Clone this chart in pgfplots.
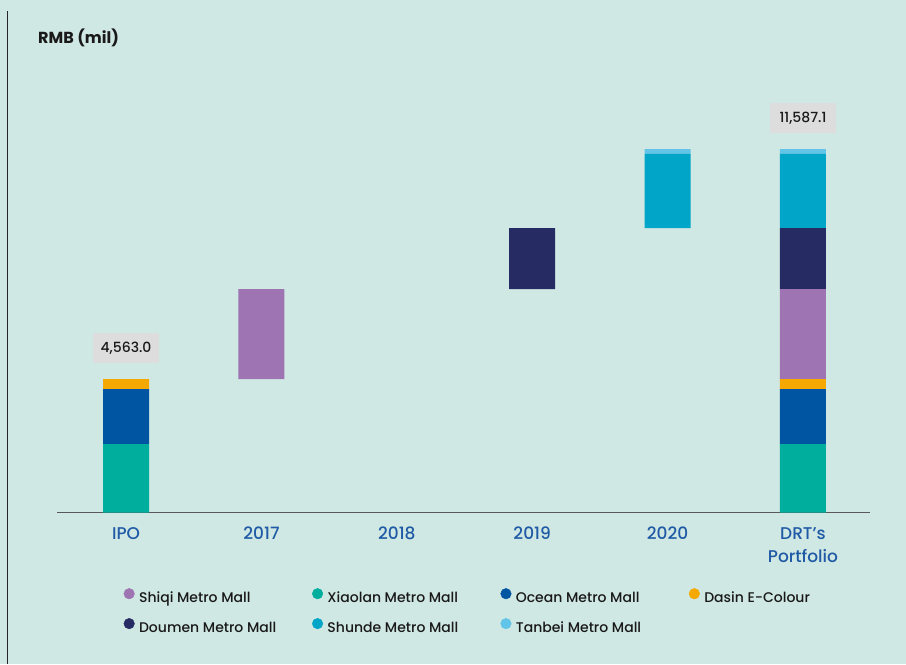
\documentclass[border=0pt]{standalone}
\usepackage{fontspec}
\setmainfont{Poppins}
\newfontfamily\pmed{Poppins Medium}
\usepackage{pgfplots}
\pgfplotsset{compat=1.18}
\definecolor{bg}{RGB}{208,232,227}
\definecolor{cXiao}{RGB}{0,174,158}
\definecolor{cOcean}{RGB}{0,85,162}
\definecolor{cDasin}{RGB}{245,168,0}
\definecolor{cShiqi}{RGB}{158,116,179}
\definecolor{cDoumen}{RGB}{39,43,99}
\definecolor{cShunde}{RGB}{0,165,200}
\definecolor{cTanbei}{RGB}{98,196,232}
\definecolor{tickblue}{RGB}{30,90,165}
\definecolor{boxgray}{RGB}{221,221,221}
\definecolor{txt}{RGB}{25,25,25}
\begin{document}
\begin{tikzpicture}
\fill[bg] (0pt,0pt) rectangle (906pt,664pt);
\draw[line width=1.3pt, black!85] (7.5pt,0pt) -- (7.5pt,653pt);
\node[anchor=base west, font=\fontsize{16}{16}\selectfont\bfseries, text=txt, inner sep=0pt] at (38pt,620.7pt) {RMB (mil)};
\begin{axis}[
  at={(57pt,151.3pt)}, anchor=south west,
  scale only axis, width=813pt, height=439.1pt,
  xmin=-0.51, xmax=5.495, ymin=0, ymax=14000,
  ybar stacked, bar width=46pt,
  hide y axis,
  axis x line*=bottom,
  x axis line style={-, draw=black!65, line width=1.3pt},
  xtick={0,1,2,3,4,5},
  xticklabels={IPO,2017,2018,2019,2020,{\begin{tabular}[t]{@{}c@{}}DRT’s\\Portfolio\end{tabular}}},
  major tick length=0pt,
  xticklabel style={font=\fontsize{17}{23}\selectfont\pmed, text=tickblue, anchor=base, yshift=-26.8pt},
  clip=false,
  legend columns=4,
  legend cell align=left,
  legend style={at={(0.0820,-0.172)}, anchor=north west, draw=none, fill=none,
    inner sep=0pt, outer sep=0pt, row sep=12.4pt,
    font=\fontsize{14}{14}\selectfont\pmed, text=txt,
    nodes={inner sep=0pt, text height=11pt, text depth=3pt}},
]
\addlegendimage{legend image code/.code={\fill[cShiqi] (5.3pt,5pt) circle (5.3pt); \path (0pt,0pt) (15pt,0pt);}}
\addlegendentry{\makebox[173pt][l]{Shiqi Metro Mall}}
\addlegendimage{legend image code/.code={\fill[cXiao] (5.3pt,5pt) circle (5.3pt); \path (0pt,0pt) (15pt,0pt);}}
\addlegendentry{\makebox[173pt][l]{Xiaolan Metro Mall}}
\addlegendimage{legend image code/.code={\fill[cOcean] (5.3pt,5pt) circle (5.3pt); \path (0pt,0pt) (15pt,0pt);}}
\addlegendentry{\makebox[173pt][l]{Ocean Metro Mall}}
\addlegendimage{legend image code/.code={\fill[cDasin] (5.3pt,5pt) circle (5.3pt); \path (0pt,0pt) (15pt,0pt);}}
\addlegendentry{\makebox[173pt][l]{Dasin E-Colour}}
\addlegendimage{legend image code/.code={\fill[cDoumen] (5.3pt,5pt) circle (5.3pt); \path (0pt,0pt) (15pt,0pt);}}
\addlegendentry{\makebox[173pt][l]{Doumen Metro Mall}}
\addlegendimage{legend image code/.code={\fill[cShunde] (5.3pt,5pt) circle (5.3pt); \path (0pt,0pt) (15pt,0pt);}}
\addlegendentry{\makebox[173pt][l]{Shunde Metro Mall}}
\addlegendimage{legend image code/.code={\fill[cTanbei] (5.3pt,5pt) circle (5.3pt); \path (0pt,0pt) (15pt,0pt);}}
\addlegendentry{\makebox[173pt][l]{Tanbei Metro Mall}}
% invisible base
\addplot[draw=none, fill=none] coordinates {(0,0) (1,4256) (2,0) (3,7125) (4,9070) (5,0)};
\addplot[draw=none, fill=cXiao] coordinates {(0,2184) (1,0) (2,0) (3,0) (4,0) (5,2184)};
\addplot[draw=none, fill=cOcean] coordinates {(0,1753) (1,0) (2,0) (3,0) (4,0) (5,1753)};
\addplot[draw=none, fill=cDasin] coordinates {(0,319) (1,0) (2,0) (3,0) (4,0) (5,319)};
\addplot[draw=none, fill=cShiqi] coordinates {(0,0) (1,2869) (2,0) (3,0) (4,0) (5,2869)};
\addplot[draw=none, fill=cDoumen] coordinates {(0,0) (1,0) (2,0) (3,1945) (4,0) (5,1945)};
\addplot[draw=none, fill=cShunde] coordinates {(0,0) (1,0) (2,0) (3,0) (4,2381) (5,2381)};
\addplot[draw=none, fill=cTanbei] coordinates {(0,0) (1,0) (2,0) (3,0) (4,137) (5,137)};
\node[fill=boxgray, minimum width=66pt, minimum height=30pt, inner sep=0pt, anchor=south, yshift=16pt, font=\fontsize{14}{14}\selectfont\pmed, text=txt, text height=9.8pt, text depth=0pt] at (axis cs:0,4256) {4,563.0};
\node[fill=boxgray, minimum width=66pt, minimum height=30pt, inner sep=0pt, anchor=south, yshift=16pt, font=\fontsize{14}{14}\selectfont\pmed, text=txt, text height=9.8pt, text depth=0pt] at (axis cs:5,11588) {11,587.1};
\end{axis}
\end{tikzpicture}
\end{document}
